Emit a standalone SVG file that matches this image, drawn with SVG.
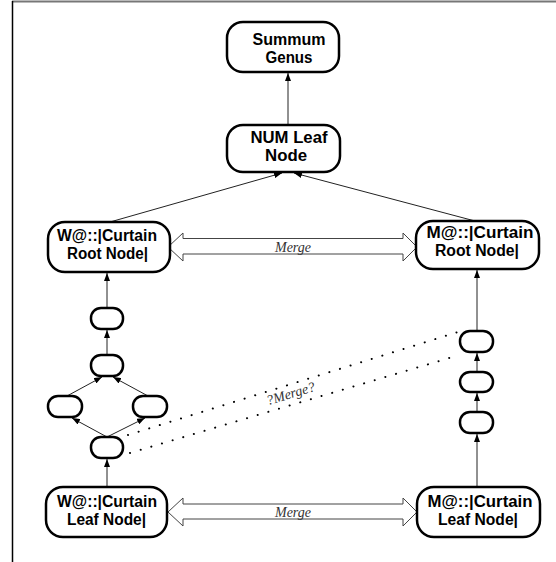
<svg xmlns="http://www.w3.org/2000/svg" width="556" height="562" viewBox="0 0 556 562">
<defs>
<marker id="ah" viewBox="0 0 8 6" refX="8" refY="3" markerWidth="8" markerHeight="6" markerUnits="userSpaceOnUse" orient="auto">
<path d="M0,0 L8,3 L0,6 z" fill="#000"/>
</marker>
<style>
.box{fill:#fff;stroke:#000;stroke-width:2.5}
.lbl{font-family:"Liberation Sans",Arial,sans-serif;font-weight:bold;font-size:16px;fill:#000;text-anchor:middle}
.conn{stroke:#222;stroke-width:1;fill:none;marker-end:url(#ah)}
.dbl{fill:#fff;stroke:#444;stroke-width:1}
.it{font-family:"Liberation Serif","Times New Roman",serif;font-style:italic;font-size:14px;fill:#333;text-anchor:middle}
.dot{stroke:#000;stroke-width:2;stroke-linecap:round;stroke-dasharray:0.1 11;fill:none}
</style>
</defs>
<rect width="556" height="562" fill="#fff"/>
<line x1="12" y1="1.5" x2="556" y2="1.5" stroke="#777" stroke-width="2"/>
<line x1="12.5" y1="1" x2="12.5" y2="562" stroke="#000" stroke-width="1.5"/>

<g id="connectors">
<line class="conn" x1="288" y1="125" x2="288" y2="73"/>
<line class="conn" x1="110" y1="222" x2="282" y2="173"/>
<line class="conn" x1="475" y1="221" x2="294" y2="173"/>
<line class="conn" x1="107" y1="308" x2="107" y2="273"/>
<line class="conn" x1="107" y1="355" x2="107" y2="330"/>
<line class="conn" x1="67" y1="396" x2="102" y2="377"/>
<line class="conn" x1="148" y1="396" x2="113" y2="377"/>
<line class="conn" x1="107" y1="437" x2="72" y2="418"/>
<line class="conn" x1="107" y1="437" x2="145" y2="418"/>
<line class="conn" x1="107" y1="487" x2="107" y2="459"/>
<line class="conn" x1="477" y1="487" x2="477" y2="434"/>
<line class="conn" x1="477" y1="412" x2="477" y2="393"/>
<line class="conn" x1="477" y1="372" x2="477" y2="353"/>
<line class="conn" x1="477" y1="331" x2="477" y2="270"/>
<polygon class="dbl" points="168,247 183,233 183,238.5 403,238.5 403,233 417,247 403,261 403,254 183,254 183,261"/>
<text class="it" x="293" y="252">Merge</text>
<polygon class="dbl" points="168,512 183,498 183,504 403,504 403,498 417,512 403,526 403,519 183,519 183,526"/>
<text class="it" x="293" y="517">Merge</text>
<line class="dot" x1="128" y1="435" x2="458" y2="332"/>
<line class="dot" x1="130" y1="453" x2="456" y2="356"/>
<text class="it" x="292" y="398" transform="rotate(-17 292 398)">?Merge?</text>
</g>

<g id="summum">
<rect class="box" x="227" y="22" width="112" height="50" rx="16"/>
<text class="lbl" x="289" y="45" textLength="73" lengthAdjust="spacingAndGlyphs">Summum</text>
<text class="lbl" x="289" y="63" textLength="47" lengthAdjust="spacingAndGlyphs">Genus</text>
</g>
<g id="num">
<rect class="box" x="227" y="125" width="113" height="47" rx="16"/>
<text class="lbl" x="289" y="143" textLength="77" lengthAdjust="spacingAndGlyphs">NUM Leaf</text>
<text class="lbl" x="286" y="161" textLength="42" lengthAdjust="spacingAndGlyphs">Node</text>
</g>
<g id="w-root">
<rect class="box" x="48" y="222" width="122" height="50" rx="17"/>
<text class="lbl" x="107" y="241" textLength="100" lengthAdjust="spacingAndGlyphs">W@::|Curtain</text>
<text class="lbl" x="107.5" y="259" textLength="81" lengthAdjust="spacingAndGlyphs">Root Node|</text>
</g>
<g id="m-root">
<rect class="box" x="416" y="221" width="123" height="48" rx="17"/>
<text class="lbl" x="480" y="238" textLength="107" lengthAdjust="spacingAndGlyphs">M@::|Curtain</text>
<text class="lbl" x="477" y="256" textLength="84" lengthAdjust="spacingAndGlyphs">Root Node|</text>
</g>
<g id="w-a"><rect class="box" x="91" y="308" width="32" height="21" rx="10"/></g>
<g id="w-b"><rect class="box" x="91" y="355" width="32" height="21" rx="10"/></g>
<g id="w-c"><rect class="box" x="48" y="396" width="34" height="21" rx="10"/></g>
<g id="w-d"><rect class="box" x="133" y="396" width="34" height="21" rx="10"/></g>
<g id="w-e"><rect class="box" x="91" y="437" width="32" height="21" rx="10"/></g>
<g id="m-a"><rect class="box" x="460" y="331" width="33" height="21" rx="10"/></g>
<g id="m-b"><rect class="box" x="460" y="372" width="33" height="20" rx="10"/></g>
<g id="m-c"><rect class="box" x="460" y="412" width="33" height="21" rx="10"/></g>
<g id="w-leaf">
<rect class="box" x="46" y="487" width="121" height="50" rx="17"/>
<text class="lbl" x="107" y="507" textLength="100" lengthAdjust="spacingAndGlyphs">W@::|Curtain</text>
<text class="lbl" x="106.5" y="525" textLength="79" lengthAdjust="spacingAndGlyphs">Leaf Node|</text>
</g>
<g id="m-leaf">
<rect class="box" x="417" y="487" width="123" height="50" rx="17"/>
<text class="lbl" x="480" y="507" textLength="105" lengthAdjust="spacingAndGlyphs">M@::|Curtain</text>
<text class="lbl" x="478" y="525" textLength="80" lengthAdjust="spacingAndGlyphs">Leaf Node|</text>
</g>
</svg>
